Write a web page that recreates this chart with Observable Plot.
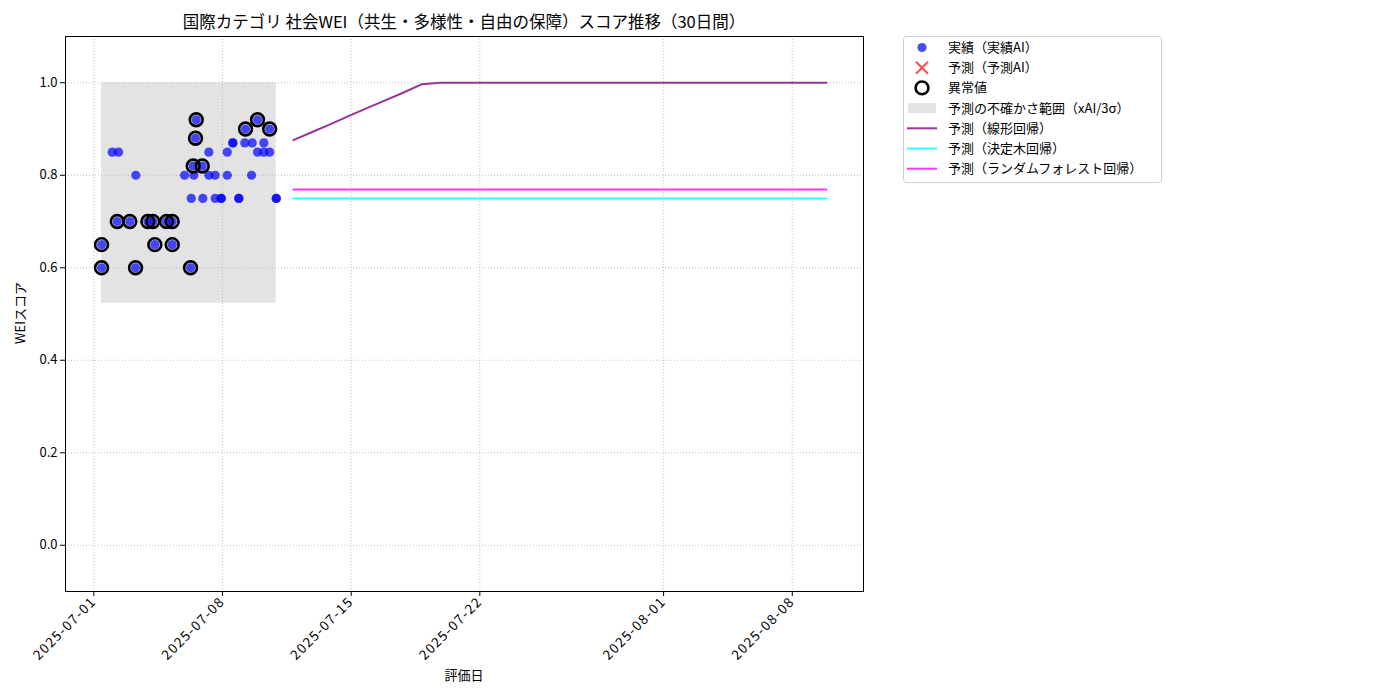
<!DOCTYPE html>
<html>
<head>
<meta charset="utf-8">
<script src="https://cdn.jsdelivr.net/npm/d3@7"></script>
<script src="https://cdn.jsdelivr.net/npm/@observablehq/plot@0.6"></script>
<style>
  html, body { margin: 0; padding: 0; background: #fff; }
  #wrap { position: relative; width: 1400px; height: 700px; font-family: "Noto Sans CJK JP", "Noto Sans", sans-serif; color: #000; }
  #wrap svg.plot { position: absolute; left: 0; top: 0; }
  #wrap svg.plot g[aria-label="x-axis tick label"] text { letter-spacing: 1.3px; }
  .title { position: absolute; top: 9px; left: 65px; width: 798px; text-align: center; font-size: 16.5px; white-space: nowrap; }
  .xlabel { position: absolute; top: 665px; left: 65px; width: 798px; text-align: center; font-size: 13px; }
  .ylabel { position: absolute; left: 19px; top: 313px; transform: translate(-50%, -50%) rotate(-90deg); font-size: 13px; white-space: nowrap; }
  #legend { position: absolute; left: 903px; top: 36px; }
</style>
</head>
<body>
<div id="wrap">
  <div class="title">国際カテゴリ 社会WEI（共生・多様性・自由の保障）スコア推移（30日間）</div>
  <div class="ylabel">WEIスコア</div>
  <div class="xlabel">評価日</div>
</div>
<script>
// ---- data ----
const actualDates = [
  "2025-07-01T10:03","2025-07-01T10:03","2025-07-02T00:01","2025-07-02T06:33","2025-07-02T08:15",
  "2025-07-02T23:01","2025-07-03T06:27","2025-07-03T06:50","2025-07-03T22:31","2025-07-04T05:02",
  "2025-07-04T07:39","2025-07-04T22:55","2025-07-05T06:23","2025-07-05T06:23","2025-07-05T22:26",
  "2025-07-06T06:16","2025-07-06T07:11","2025-07-06T09:48","2025-07-06T10:35","2025-07-06T12:48",
  "2025-07-06T13:42","2025-07-06T21:33","2025-07-06T22:19","2025-07-07T06:10","2025-07-07T06:10",
  "2025-07-07T14:24","2025-07-07T14:24","2025-07-07T22:19","2025-07-07T22:19","2025-07-08T06:12",
  "2025-07-08T06:12","2025-07-08T13:31","2025-07-08T13:31","2025-07-08T21:20","2025-07-08T21:20",
  "2025-07-09T05:10","2025-07-09T06:04","2025-07-09T13:55","2025-07-09T14:50","2025-07-09T21:45",
  "2025-07-09T21:45","2025-07-10T05:59","2025-07-10T05:59","2025-07-10T13:34","2025-07-10T13:34",
  "2025-07-10T22:11","2025-07-10T22:11"
];
const actualValues = [
  0.60,0.65,0.85,0.70,0.85,
  0.70,0.60,0.80,0.70,0.70,
  0.65,0.70,0.70,0.65,0.80,
  0.60,0.75,0.82,0.80,0.88,
  0.92,0.82,0.75,0.85,0.80,
  0.75,0.80,0.75,0.75,0.80,
  0.85,0.87,0.87,0.75,0.75,
  0.87,0.90,0.80,0.87,0.85,
  0.92,0.87,0.85,0.90,0.85,
  0.75,0.75
];
const anomalyDates = [
  "2025-07-01T10:03","2025-07-01T10:03","2025-07-02T06:33","2025-07-02T23:01","2025-07-03T06:27",
  "2025-07-03T22:31","2025-07-04T05:02","2025-07-04T07:39","2025-07-04T22:55","2025-07-05T06:23",
  "2025-07-05T06:23","2025-07-06T06:16","2025-07-06T09:48","2025-07-06T12:48","2025-07-06T13:42",
  "2025-07-06T21:33","2025-07-09T06:04","2025-07-09T21:45","2025-07-10T13:34"
];
const anomalyValues = [
  0.60,0.65,0.70,0.70,0.60,
  0.70,0.70,0.65,0.70,0.70,
  0.65,0.60,0.82,0.88,0.92,
  0.82,0.90,0.92,0.90
];
const bandDates = ["2025-07-01T10:03","2025-07-10T22:11"];
const bandLower = [0.523, 0.523];
const bandUpper = [1.0, 1.0];

const forecastDates = [
  "2025-07-11T20:30","2025-07-12T20:30","2025-07-13T20:30","2025-07-14T20:30","2025-07-15T20:30",
  "2025-07-16T20:30","2025-07-17T20:30","2025-07-18T20:30","2025-07-19T20:30","2025-07-20T20:30",
  "2025-07-21T20:30","2025-07-22T20:30","2025-07-23T20:30","2025-07-24T20:30","2025-07-25T20:30",
  "2025-07-26T20:30","2025-07-27T20:30","2025-07-28T20:30","2025-07-29T20:30","2025-07-30T20:30",
  "2025-07-31T20:30","2025-08-01T20:30","2025-08-02T20:30","2025-08-03T20:30","2025-08-04T20:30",
  "2025-08-05T20:30","2025-08-06T20:30","2025-08-07T20:30","2025-08-08T20:30","2025-08-09T20:30"
];
const linearValues = [
  0.876,0.893,0.910,0.928,0.945,0.962,0.979,0.997,1.0,1.0,
  1.0,1.0,1.0,1.0,1.0,1.0,1.0,1.0,1.0,1.0,
  1.0,1.0,1.0,1.0,1.0,1.0,1.0,1.0,1.0,1.0
];
const treeValues = [
  0.75,0.75,0.75,0.75,0.75,0.75,0.75,0.75,0.75,0.75,
  0.75,0.75,0.75,0.75,0.75,0.75,0.75,0.75,0.75,0.75,
  0.75,0.75,0.75,0.75,0.75,0.75,0.75,0.75,0.75,0.75
];
const forestValues = [
  0.769,0.769,0.769,0.769,0.769,0.769,0.769,0.769,0.769,0.769,
  0.769,0.769,0.769,0.769,0.769,0.769,0.769,0.769,0.769,0.769,
  0.769,0.769,0.769,0.769,0.769,0.769,0.769,0.769,0.769,0.769
];
const xTicks = ["2025-07-01","2025-07-08","2025-07-15","2025-07-22","2025-08-01","2025-08-08"];
const yTicks = [0.0, 0.2, 0.4, 0.6, 0.8, 1.0];
const xDomain = ["2025-06-29T11:00","2025-08-11T21:00"];
const yDomain = [-0.1, 1.1];
const legendLabels = [
  "実績（実績AI）","予測（予測AI）","異常値","予測の不確かさ範囲（xAI/3σ）",
  "予測（線形回帰）","予測（決定木回帰）","予測（ランダムフォレスト回帰）"
];

// ---- build ----
const utc = s => new Date(s.length === 10 ? s + "T00:00:00Z" : s + ":00Z");
const actual = actualDates.map((d, i) => ({date: utc(d), value: actualValues[i]}));
const anomalies = anomalyDates.map((d, i) => ({date: utc(d), value: anomalyValues[i]}));
const band = bandDates.map((d, i) => ({date: utc(d), lo: bandLower[i], hi: bandUpper[i]}));
const fc = forecastDates.map((d, i) => ({date: utc(d), lin: linearValues[i], tree: treeValues[i], forest: forestValues[i]}));

const COL = {
  actual: "blue", pred: "#ff4d4d", linear: "#993399", tree: "#33ffff", forest: "#ff33ff"
};

const chart = Plot.plot({
  width: 1400, height: 700,
  marginLeft: 65, marginRight: 537, marginTop: 36, marginBottom: 109,
  style: {fontFamily: '"Noto Sans CJK JP", "Noto Sans", sans-serif', fontSize: "13px", color: "#000", background: "transparent"},
  x: {type: "utc", domain: xDomain.map(utc)},
  y: {domain: yDomain},
  marks: [
    Plot.areaY(band, {x: "date", y1: "lo", y2: "hi", fill: "#808080", fillOpacity: 0.22}),
    Plot.gridX(xTicks.map(utc), {stroke: "#b0b0b0", strokeOpacity: 1, strokeWidth: 0.8, strokeDasharray: "1,2"}),
    Plot.gridY(yTicks, {stroke: "#b0b0b0", strokeOpacity: 1, strokeWidth: 0.8, strokeDasharray: "1,2"}),
    Plot.axisX(xTicks.map(utc), {tickFormat: d3.utcFormat("%Y-%m-%d"), tickRotate: -45, tickSize: 5, tickPadding: 3, fontSize: 13.5, label: null}),
    Plot.axisY(yTicks, {tickFormat: d3.format(".1f"), tickSize: 5, tickPadding: 3, fontSize: 13, label: null}),
    Plot.dot(actual, {x: "date", y: "value", r: 4.6, fill: COL.actual, fillOpacity: 0.7, stroke: "none"}),
    Plot.dot(anomalies, {x: "date", y: "value", r: 6.4, fill: "none", stroke: "black", strokeWidth: 2.6}),
    Plot.line(fc, {x: "date", y: "lin", stroke: COL.linear, strokeWidth: 2}),
    Plot.line(fc, {x: "date", y: "tree", stroke: COL.tree, strokeWidth: 2}),
    Plot.line(fc, {x: "date", y: "forest", stroke: COL.forest, strokeWidth: 2}),
    Plot.frame({stroke: "black", strokeWidth: 1})
  ]
});
chart.classList.add("plot");
document.getElementById("wrap").prepend(chart);

// ---- legend ----
const lw = 258, lh = 146;
const leg = d3.select("#wrap").append("svg").attr("id", "legend")
  .attr("width", lw + 2).attr("height", lh + 2);
leg.append("rect").attr("x", 0.5).attr("y", 0.5).attr("width", lw).attr("height", lh)
  .attr("rx", 3).attr("fill", "white").attr("stroke", "#cccccc");
const rowY = i => 11.5 + i * 20.2;
const mx = 19;
legendLabels.forEach((lab, i) => {
  const y = rowY(i);
  const g = leg.append("g");
  if (i === 0) {
    g.append("circle").attr("cx", mx).attr("cy", y).attr("r", 4.6).attr("fill", COL.actual).attr("fill-opacity", 0.7);
  } else if (i === 1) {
    g.append("path").attr("d", `M${mx-6},${y-6}L${mx+6},${y+6}M${mx-6},${y+6}L${mx+6},${y-6}`)
      .attr("stroke", COL.pred).attr("stroke-width", 2);
  } else if (i === 2) {
    g.append("circle").attr("cx", mx).attr("cy", y).attr("r", 6.4).attr("fill", "none").attr("stroke", "black").attr("stroke-width", 2.6);
  } else if (i === 3) {
    g.append("rect").attr("x", 5).attr("y", y - 5).attr("width", 28).attr("height", 10).attr("fill", "#808080").attr("fill-opacity", 0.22);
  } else {
    const c = [COL.linear, COL.tree, COL.forest][i - 4];
    g.append("line").attr("x1", 4).attr("x2", 34).attr("y1", y).attr("y2", y).attr("stroke", c).attr("stroke-width", 2);
  }
  const t = g.append("text").attr("x", 45).attr("y", y).attr("dy", "0.35em")
    .attr("font-size", 13).attr("font-family", '"Noto Sans CJK JP", "Noto Sans", sans-serif');
  const k = lab.indexOf("σ");
  if (k >= 0) {
    t.append("tspan").text(lab.slice(0, k));
    t.append("tspan").style("font-feature-settings", '"fwid" 1').text("σ");
    t.append("tspan").text(lab.slice(k + 1));
  } else {
    t.text(lab);
  }
});
</script>
</body>
</html>
